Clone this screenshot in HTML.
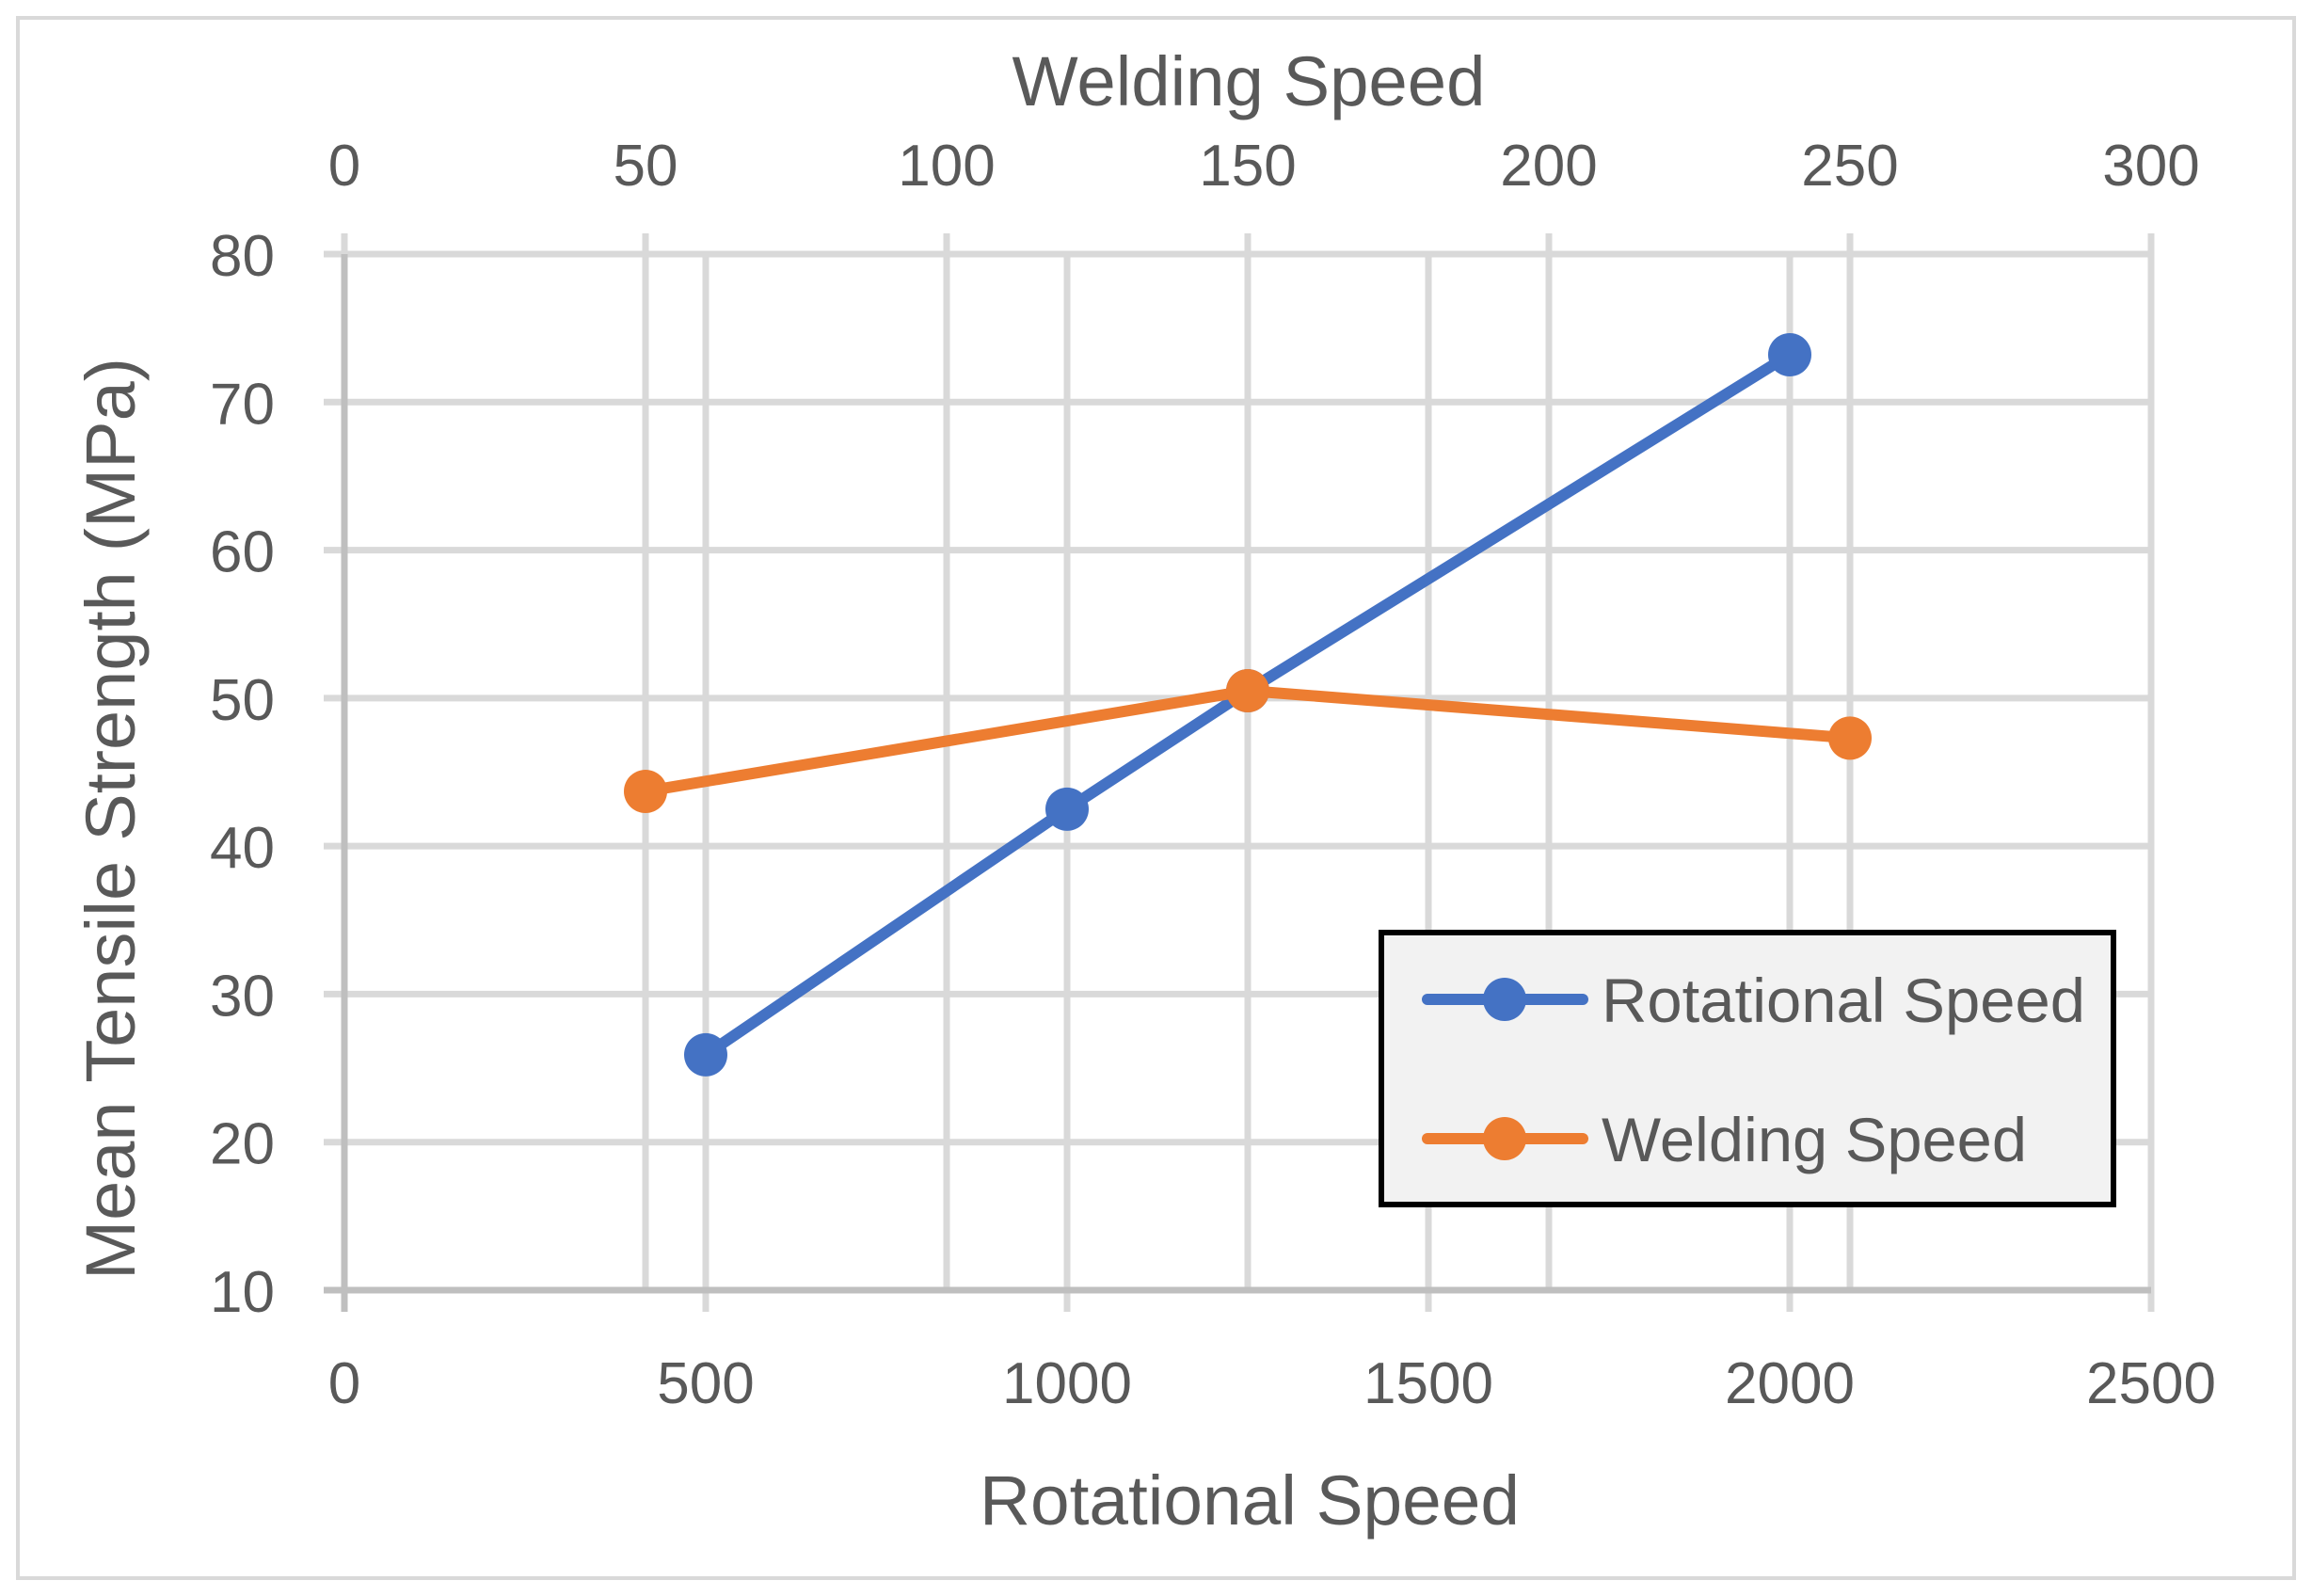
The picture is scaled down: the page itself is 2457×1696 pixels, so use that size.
<!DOCTYPE html>
<html><head><meta charset="utf-8"><style>
html,body{margin:0;padding:0;background:#fff;}
svg{display:block;font-family:"Liberation Sans",sans-serif;}
</style></head><body>
<svg id="chart" width="2457" height="1696" viewBox="0 0 2457 1696" xmlns="http://www.w3.org/2000/svg">
<rect x="19" y="19" width="2419" height="1658" fill="#fff" stroke="#d9d9d9" stroke-width="4"/>
<g id="grid"></g>
<g id="series"></g>
<g id="labels" fill="#595959"></g>
<text x="1327" y="112" font-size="74" fill="#595959" text-anchor="middle" textLength="503" lengthAdjust="spacingAndGlyphs">Welding Speed</text>
<text x="1328" y="1620" font-size="74" fill="#595959" text-anchor="middle" textLength="574" lengthAdjust="spacingAndGlyphs">Rotational Speed</text>
<text transform="translate(143,870) rotate(-90)" font-size="74" fill="#595959" text-anchor="middle" textLength="980" lengthAdjust="spacingAndGlyphs">Mean Tensile Strength (MPa)</text>
<g>
<rect x="1468" y="991" width="778" height="289" fill="#f2f2f2" stroke="#000" stroke-width="6"/>
<g>
<line x1="1517" y1="1062" x2="1682" y2="1062" stroke="#4472c4" stroke-width="12" stroke-linecap="round"/>
<circle cx="1599" cy="1062" r="23" fill="#4472c4"/>
<text x="1702" y="1086" font-size="66" fill="#595959" textLength="514" lengthAdjust="spacingAndGlyphs">Rotational Speed</text>
</g>
<g>
<line x1="1517" y1="1210" x2="1682" y2="1210" stroke="#ed7d31" stroke-width="12" stroke-linecap="round"/>
<circle cx="1599" cy="1210" r="23" fill="#ed7d31"/>
<text x="1702" y="1234" font-size="66" fill="#595959" textLength="452" lengthAdjust="spacingAndGlyphs">Welding Speed</text>
</g>
</g>
</svg>
<script>
const yTicks = [10,20,30,40,50,60,70,80];
const xBottomTicks = [0,500,1000,1500,2000,2500];
const xTopTicks = [0,50,100,150,200,250,300];
const rotX = [500,1000,1250,2000];
const rotY = [25.9,42.5,50.5,73.2];
const weldX = [50,150,250];
const weldY = [43.7,50.5,47.3];

const L=366,R=2286,T=270,B=1371;
const xB=v=>L+(v-0)/2500*(R-L);
const xT=v=>L+(v-0)/300*(R-L);
const yS=v=>B-(v-10)/70*(B-T);
const NS='http://www.w3.org/2000/svg';
function mk(tag,attrs,parent){const e=document.createElementNS(NS,tag);for(const k in attrs)e.setAttribute(k,attrs[k]);parent.appendChild(e);return e;}
const grid=document.getElementById('grid'),labels=document.getElementById('labels'),series=document.getElementById('series');

yTicks.forEach(v=>{
  const y=yS(v);
  const ln=mk('line',{x1:L-22,x2:R,y1:y,y2:y,stroke:v===10?'#bfbfbf':'#d9d9d9','stroke-width':7},grid);
  
  
  const t=mk('text',{x:292,y:y+23,'font-size':62,'text-anchor':'end'},labels);
  t.textContent=v;
  
  
});
xTopTicks.forEach(v=>{
  const x=xT(v);
  const ln=mk('line',{x1:x,x2:x,y1:T-22,y2:B,stroke:'#d9d9d9','stroke-width':7},grid);
  
  
  const t=mk('text',{x:x,y:197,'font-size':62,'text-anchor':'middle'},labels);
  t.textContent=v;
  
  
});
xBottomTicks.forEach(v=>{
  const x=xB(v);
  const ln=mk('line',{x1:x,x2:x,y1:T,y2:B+23,stroke:v===0?'#bfbfbf':'#d9d9d9','stroke-width':7},grid);
  
  
  const t=mk('text',{x:x,y:1491,'font-size':62,'text-anchor':'middle'},labels);
  t.textContent=v;
  
  
});
const bl=mk('line',{x1:L,x2:R,y1:B,y2:B,stroke:'#bfbfbf','stroke-width':7},grid);



function drawSeries(xs,ys,sx,color,name){
  const pts=xs.map((v,i)=>sx(v)+','+yS(ys[i])).join(' ');
  const pl=mk('polyline',{points:pts,fill:'none',stroke:color,'stroke-width':12,'stroke-linejoin':'round','stroke-linecap':'round'},series);
  
  
  xs.forEach((v,i)=>{
    const c=mk('circle',{cx:sx(v),cy:yS(ys[i]),r:23,fill:color},series);
    
    
  });
}
drawSeries(rotX,rotY,xB,'#4472c4','rotational-speed');
drawSeries(weldX,weldY,xT,'#ed7d31','welding-speed');
</script>
</body></html>
